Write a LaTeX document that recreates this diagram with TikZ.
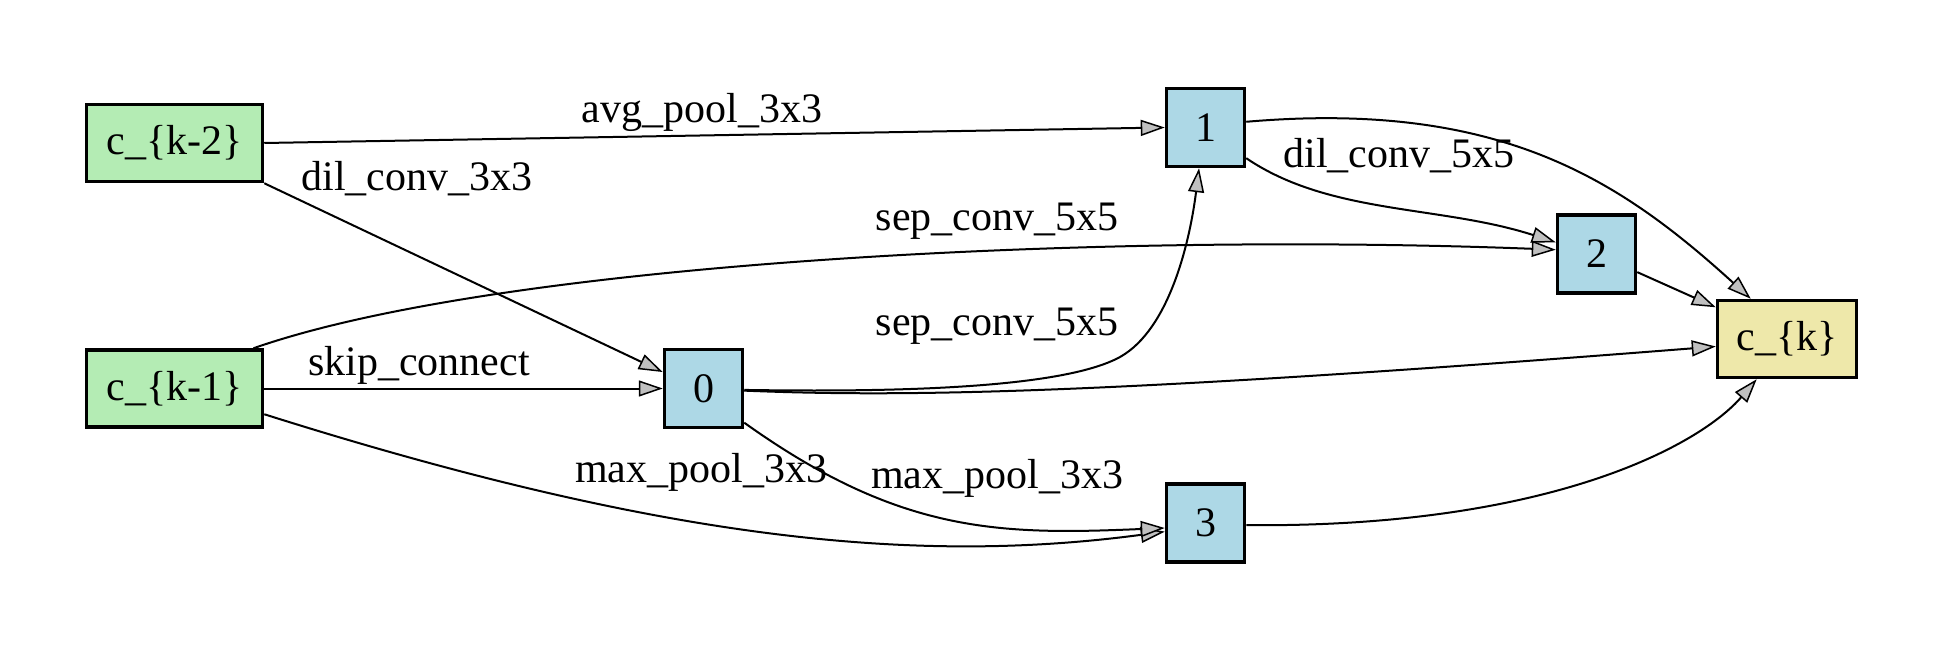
\documentclass[tikz,border=0pt]{standalone}
\usepackage{fontspec}
\setmainfont{Liberation Serif}
\usetikzlibrary{arrows.meta}
\definecolor{cgreen}{RGB}{180,236,180}
\definecolor{nblue}{RGB}{173,216,230}
\definecolor{cyellow}{RGB}{238,232,170}
\definecolor{agray}{RGB}{192,192,192}
\begin{document}
\begin{tikzpicture}[x=1pt,y=-1pt,
  box/.style={draw=black,line width=3.5pt,inner sep=0pt,font=\fontsize{42}{50}\selectfont},
  cnode/.style={box,fill=cgreen,minimum width=176pt,minimum height=77pt},
  inode/.style={box,fill=nblue,minimum width=78pt,minimum height=78pt},
  onode/.style={box,fill=cyellow,minimum width=139pt,minimum height=77pt},
  edge/.style={draw=black,line width=2pt,-{Triangle[length=24pt,width=16pt,fill=agray,line width=1.5pt]}},
  lbl/.style={font=\fontsize{42}{50}\selectfont,inner sep=0pt,anchor=base}]
\useasboundingbox (0,0) rectangle (1945,650);

\node[cnode] (ck2) at (174.5,143) {c\_\{k-2\}};
\node[cnode] (ck1) at (174.5,388.5) {c\_\{k-1\}};
\node[inode] (n0) at (703.5,388.5) {0};
\node[inode] (n1) at (1205.5,127.5) {1};
\node[inode] (n2) at (1596.5,254) {2};
\node[inode] (n3) at (1205.5,523) {3};
\node[onode] (ck) at (1787,339) {c\_\{k\}};

% edges
\draw[edge] (ck2.east) -- (n1.west);
\draw[edge] (ck2.south east) -- (n0.158);
\draw[edge] (ck1.27) .. controls (500,262) and (1100,232) .. (n2.174);
\draw[edge] (ck1.east) -- (n0.west);
\draw[edge] (ck1.-16.5) .. controls (662,540) and (915,565) .. (n3.192.5);
\draw[edge] (n0.-2) .. controls (880,392) and (1060,390) .. (1120,357)
                    .. controls (1170,329) and (1190,240) .. (n1.261);
\draw[edge] (n0.-3) .. controls (900,397) and (1100,395) .. (ck.186);
\draw[edge] (n0.-40) .. controls (900,534) and (1000,535) .. (n3.187);
\draw[edge] (n1.-37) .. controls (1330,215) and (1440,205) .. (n2.164);
\draw[edge] (n1.8) .. controls (1500,100) and (1620,180) .. (ck.132);
\draw[edge] (n2.-24) -- (ck.156);
\draw[edge] (n3.-3) .. controls (1550,528) and (1700,445) .. (ck.-127);

% labels
\node[lbl] (l1) at (702,122) {avg\_pool\_3x3};
\node[lbl] (l2) at (417,190) {dil\_conv\_3x3};
\node[lbl] (l3) at (997,230) {sep\_conv\_5x5};
\node[lbl] (l4) at (997,335) {sep\_conv\_5x5};
\node[lbl] (l5) at (419,375) {skip\_connect};
\node[lbl] (l6) at (701,482) {max\_pool\_3x3};
\node[lbl] (l7) at (997,488) {max\_pool\_3x3};
\node[lbl] (l8) at (1399,167) {dil\_conv\_5x5};
\end{tikzpicture}
\end{document}
